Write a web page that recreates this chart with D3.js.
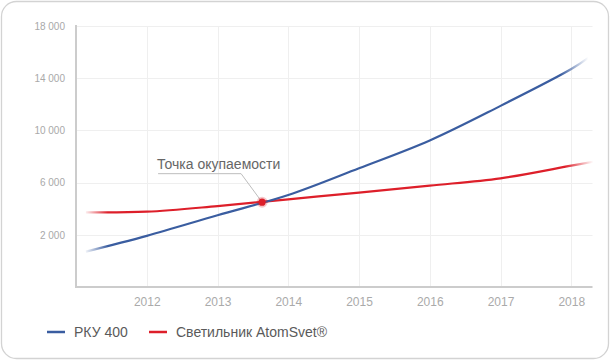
<!DOCTYPE html>
<html>
<head>
<meta charset="utf-8">
<script src="https://cdn.jsdelivr.net/npm/d3@7"></script>
<style>
  html, body { margin: 0; padding: 0; background: #fff; }
  svg { display: block; font-family: "Liberation Sans", Arial, sans-serif; }
</style>
</head>
<body>
<svg id="chart" width="610" height="360"></svg>
<script>
// ---- data ----
const xTicks = [2012, 2013, 2014, 2015, 2016, 2017, 2018];
const yTicks = [2000, 6000, 10000, 14000, 18000];
const rkuYears   = [2011.14, 2012, 2013, 2014, 2015, 2016, 2017, 2018, 2018.24];
const rkuValues  = [715, 1920, 3500, 5050, 7100, 9230, 11880, 14700, 15560];
const atomYears  = [2011.14, 2012, 2013, 2014, 2015, 2016, 2017, 2018, 2018.31];
const atomValues = [3720, 3770, 4200, 4720, 5230, 5770, 6330, 7300, 7600];
const seriesNames = ["РКУ 400", "Светильник AtomSvet®"];
const breakEvenYear = 2013.63;
const breakEvenValue = 4500;
const breakEvenLabel = "Точка окупаемости";

// ---- layout ----
const svg = d3.select("#chart");
const W = 610, H = 360;
const plotL = 76, plotR = 592.5, plotT = 26, plotB = 287;
const blue = "#3a5da0", red = "#dd1f2a";

svg.append("rect")
  .attr("x", 1.5).attr("y", 1.5).attr("width", W - 3).attr("height", H - 3)
  .attr("rx", 15).attr("ry", 15)
  .attr("fill", "#fff").attr("stroke", "#d3d3d3").attr("stroke-width", 1.3);

const x = d3.scaleLinear().domain([2011, 2018.3]).range([plotL, plotR]);
const y = d3.scaleLinear().domain([-2000, 18000]).range([plotB, plotT]);

// gridlines
svg.append("g").selectAll("line").data(yTicks).join("line")
  .attr("x1", plotL).attr("x2", plotR)
  .attr("y1", d => Math.round(y(d)) + 0.5).attr("y2", d => Math.round(y(d)) + 0.5)
  .attr("stroke", "#efefef").attr("stroke-width", 1);
svg.append("g").selectAll("line").data(xTicks).join("line")
  .attr("y1", plotT).attr("y2", plotB)
  .attr("x1", d => Math.round(x(d)) + 0.5).attr("x2", d => Math.round(x(d)) + 0.5)
  .attr("stroke", "#efefef").attr("stroke-width", 1);

// axes via d3 axis
const yAxis = d3.axisLeft(y).tickValues(yTicks).tickSize(0).tickPadding(11)
  .tickFormat(d => d3.format(",")(d).replace(/,/g, " "));
const gy = svg.append("g").attr("transform", `translate(${plotL},0)`).call(yAxis);
gy.select(".domain").remove();
gy.selectAll("text").attr("fill", "#a9a9a9").attr("font-size", 10)
  .attr("font-family", "Liberation Sans, Arial, sans-serif");

const xAxis = d3.axisBottom(x).tickValues(xTicks).tickSize(0).tickPadding(10)
  .tickFormat(d3.format("d"));
const gx = svg.append("g").attr("transform", `translate(0,${plotB})`).call(xAxis);
gx.select(".domain").remove();
gx.selectAll("text").attr("fill", "#aaaaaa").attr("font-size", 12)
  .attr("font-family", "Liberation Sans, Arial, sans-serif");

// axis lines
svg.append("line").attr("x1", plotL).attr("x2", plotL).attr("y1", plotT - 1).attr("y2", plotB + 1)
  .attr("stroke", "#cccccc").attr("stroke-width", 2);
svg.append("line").attr("x1", plotL - 1).attr("x2", plotR).attr("y1", plotB).attr("y2", plotB)
  .attr("stroke", "#cccccc").attr("stroke-width", 2);

// gradients for faded ends
const defs = svg.append("defs");
function fadeGrad(id, color, x0, x1) {
  const g = defs.append("linearGradient").attr("id", id)
    .attr("gradientUnits", "userSpaceOnUse")
    .attr("x1", x0).attr("x2", x1).attr("y1", 0).attr("y2", 0);
  const span = x1 - x0;
  [[0, 0.08], [22 / span, 1], [(span - 28) / span, 1], [1, 0.0]].forEach(([o, a]) =>
    g.append("stop").attr("offset", o).attr("stop-color", color).attr("stop-opacity", a));
}
fadeGrad("gBlue", blue, x(rkuYears[0]), x(rkuYears[rkuYears.length - 1]));
fadeGrad("gRed", red, x(atomYears[0]), x(atomYears[atomYears.length - 1]));

const line = d3.line().x(d => x(d[0])).y(d => y(d[1])).curve(d3.curveCatmullRom.alpha(0.5));
svg.append("path").datum(d3.zip(atomYears, atomValues)).attr("d", line)
  .attr("fill", "none").attr("stroke", "url(#gRed)").attr("stroke-width", 2.2);
svg.append("path").datum(d3.zip(rkuYears, rkuValues)).attr("d", line)
  .attr("fill", "none").attr("stroke", "url(#gBlue)").attr("stroke-width", 2.2);

// break-even annotation
const px = x(breakEvenYear), py = y(breakEvenValue);
svg.append("path")
  .attr("d", `M${px - 104},${py - 28.5} H${px - 21} L${px},${py}`)
  .attr("fill", "none").attr("stroke", "#bdbdbd").attr("stroke-width", 1);
svg.append("text").attr("x", px - 105).attr("y", py - 33.5)
  .attr("font-size", 14).attr("fill", "#666").text(breakEvenLabel);
svg.append("circle").attr("cx", px).attr("cy", py).attr("r", 5.5)
  .attr("fill", red).attr("opacity", 0.25);
svg.append("circle").attr("cx", px).attr("cy", py).attr("r", 3.6).attr("fill", red);

// legend
const legend = svg.append("g");
const legendItems = [
  { name: seriesNames[0], color: blue, x: 47 },
  { name: seriesNames[1], color: red, x: 149 }
];
legendItems.forEach(it => {
  legend.append("line").attr("x1", it.x).attr("x2", it.x + 18).attr("y1", 332).attr("y2", 332)
    .attr("stroke", it.color).attr("stroke-width", 2.5);
  legend.append("text").attr("x", it.x + 27).attr("y", 337).attr("font-size", 14)
    .attr("fill", "#5a5a5a").text(it.name);
});
</script>
</body>
</html>
